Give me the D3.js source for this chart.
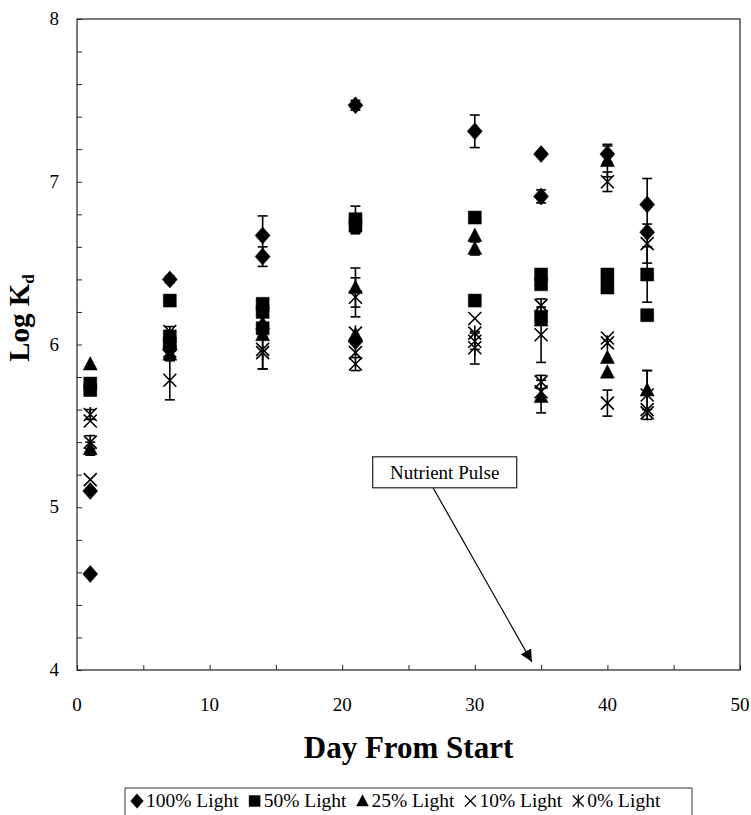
<!DOCTYPE html>
<html>
<head>
<meta charset="utf-8">
<script src="https://cdn.jsdelivr.net/npm/d3@7"></script>
<style>
  html, body { margin: 0; padding: 0; background: #fff; overflow: hidden; }
  svg { display: block; }
  text { font-family: "Liberation Serif", "Times New Roman", serif; fill: #000; }
  .tick-label { font-size: 19px; }
  .axis-title { font-size: 29px; font-weight: bold; }
</style>
</head>
<body>
<div id="chart"></div>
<script>
// Log Kd readings per light treatment: [day, value, error]
const light100 = [
  [1, 5.10, 0], [1, 4.59, 0],
  [7, 6.40, 0.02], [7, 5.97, 0],
  [14, 6.67, 0.12], [14, 6.54, 0.06],
  [21, 7.47, 0.03], [21, 6.02, 0],
  [30, 7.31, 0.10],
  [35, 7.17, 0], [35, 6.91, 0.04],
  [40, 7.17, 0.05],
  [43, 6.86, 0.16], [43, 6.69, 0]
];
const light50 = [
  [1, 5.76, 0], [1, 5.72, 0],
  [7, 6.27, 0.03], [7, 6.05, 0.03], [7, 6.00, 0],
  [14, 6.25, 0], [14, 6.20, 0], [14, 6.10, 0],
  [21, 6.77, 0.08], [21, 6.73, 0.05],
  [30, 6.78, 0], [30, 6.27, 0],
  [35, 6.43, 0], [35, 6.37, 0], [35, 6.17, 0],
  [40, 6.43, 0], [40, 6.35, 0],
  [43, 6.43, 0.17], [43, 6.18, 0]
];
const light25 = [
  [1, 5.88, 0], [1, 5.36, 0.04],
  [7, 6.02, 0], [7, 5.94, 0],
  [14, 6.13, 0], [14, 6.06, 0],
  [21, 6.35, 0.12], [21, 6.06, 0],
  [30, 6.67, 0], [30, 6.59, 0.04],
  [35, 6.15, 0], [35, 5.68, 0.1],
  [40, 7.13, 0.1], [40, 5.92, 0], [40, 5.83, 0],
  [43, 5.72, 0.12]
];
const light10 = [
  [1, 5.53, 0], [1, 5.17, 0],
  [7, 5.78, 0.12], [7, 6.08, 0.03],
  [14, 5.97, 0.12],
  [21, 6.29, 0.12], [21, 5.88, 0.04],
  [30, 6.16, 0], [30, 6.02, 0.05],
  [35, 6.24, 0.04], [35, 6.06, 0.17], [35, 5.71, 0],
  [40, 7.00, 0.06], [40, 6.04, 0], [40, 5.64, 0.08],
  [43, 6.62, 0.12], [43, 5.60, 0]
];
const light0 = [
  [1, 5.57, 0.03], [1, 5.40, 0.04],
  [7, 5.96, 0],
  [14, 5.95, 0.1],
  [21, 6.07, 0], [21, 5.95, 0],
  [30, 6.07, 0], [30, 5.98, 0.1],
  [35, 5.77, 0.04],
  [40, 6.01, 0],
  [43, 5.69, 0.15], [43, 5.58, 0]
];

const seriesNames = ["100% Light", "50% Light", "25% Light", "10% Light", "0% Light"];
const seriesShapes = ["diamond", "square", "triangle", "cross", "asterisk"];
const xTicks = [0, 10, 20, 30, 40, 50];
const yTicks = [4, 5, 6, 7, 8];
// annotation: label and arrow start / end (day, value)
const noteLabel = "Nutrient Pulse";
const noteArrow = [[26.85, 5.12], [34.3, 4.05]];

const width = 751, height = 815;
const margin = { top: 19, right: 11, bottom: 145, left: 77 };
const innerWidth = width - margin.left - margin.right;
const innerHeight = height - margin.top - margin.bottom;

const svg = d3.select("#chart")
  .append("svg")
  .attr("width", width)
  .attr("height", height);

const inner = svg.append("g")
  .attr("transform", `translate(${margin.left},${margin.top})`);

const xScale = d3.scaleLinear().domain([0, 50]).range([0, innerWidth]);
const yScale = d3.scaleLinear().domain([4, 8]).range([innerHeight, 0]);

// frame
inner.append("rect")
  .attr("width", innerWidth)
  .attr("height", innerHeight)
  .attr("fill", "none")
  .attr("stroke", "#222")
  .attr("stroke-width", 1.2);

// inward ticks, minor ones included
const bottomAxis = d3.axisBottom(xScale)
  .tickValues(d3.range(0, 51, 5))
  .tickSize(-5)
  .tickFormat("");
inner.append("g")
  .attr("transform", `translate(0,${innerHeight})`)
  .call(bottomAxis)
  .call(g => g.select(".domain").remove());

const leftAxis = d3.axisLeft(yScale)
  .tickValues(d3.range(4, 8.01, 0.2))
  .tickSize(-5)
  .tickFormat("");
inner.append("g")
  .call(leftAxis)
  .call(g => g.select(".domain").remove());

inner.selectAll(".tick line").attr("stroke", "#222");

inner.selectAll(".x-label")
  .data(xTicks)
  .join("text")
  .attr("class", "tick-label")
  .attr("x", d => xScale(d))
  .attr("y", innerHeight + 41)
  .attr("text-anchor", "middle")
  .text(d => d);

inner.selectAll(".y-label")
  .data(yTicks)
  .join("text")
  .attr("class", "tick-label")
  .attr("x", -18)
  .attr("y", d => yScale(d) + 6)
  .attr("text-anchor", "end")
  .text(d => d);

// axis titles
svg.append("text")
  .attr("class", "axis-title")
  .attr("x", margin.left + xScale(25))
  .attr("y", 758)
  .attr("text-anchor", "middle")
  .style("font-size", "31px")
  .text("Day From Start");

const yTitle = svg.append("text")
  .attr("class", "axis-title")
  .attr("transform", "translate(29,318) rotate(-90)")
  .attr("text-anchor", "middle");
yTitle.append("tspan").text("Log K");
yTitle.append("tspan")
  .attr("dy", 5)
  .style("font-size", "17px")
  .text("d");

// marker shapes
const shapePath = (shape) => {
  switch (shape) {
    case "diamond": return "M0,-8.5L7.5,0L0,8.5L-7.5,0Z";
    case "square": return "M-6.5,-6.5H6.5V6.5H-6.5Z";
    case "triangle": return "M0,-7.5L7,6L-7,6Z";
    case "cross": return "M-6.5,-6.5L6.5,6.5M6.5,-6.5L-6.5,6.5";
    case "asterisk": return "M-6.5,-6.5L6.5,6.5M6.5,-6.5L-6.5,6.5M0,-7.5V7.5";
  }
};
const filled = shape => shape === "diamond" || shape === "square" || shape === "triangle";

const allSeries = [light100, light50, light25, light10, light0];

// error bars first, markers on top
allSeries.forEach((data) => {
  const bars = inner.append("g").selectAll("g")
    .data(data.filter(d => d[2] > 0))
    .join("g")
    .attr("stroke", "#000")
    .attr("stroke-width", 1.6);
  bars.append("line")
    .attr("x1", d => xScale(d[0])).attr("x2", d => xScale(d[0]))
    .attr("y1", d => yScale(d[1] - d[2])).attr("y2", d => yScale(d[1] + d[2]));
  bars.append("line")
    .attr("x1", d => xScale(d[0]) - 5).attr("x2", d => xScale(d[0]) + 5)
    .attr("y1", d => yScale(d[1] + d[2])).attr("y2", d => yScale(d[1] + d[2]));
  bars.append("line")
    .attr("x1", d => xScale(d[0]) - 5).attr("x2", d => xScale(d[0]) + 5)
    .attr("y1", d => yScale(d[1] - d[2])).attr("y2", d => yScale(d[1] - d[2]));
});

allSeries.forEach((data, i) => {
  const shape = seriesShapes[i];
  inner.append("g").selectAll("path")
    .data(data)
    .join("path")
    .attr("transform", d => `translate(${xScale(d[0])},${yScale(d[1])})`)
    .attr("d", shapePath(shape))
    .attr("fill", filled(shape) ? "#000" : "none")
    .attr("stroke", "#000")
    .attr("stroke-width", filled(shape) ? 0.5 : 1.6);
});

// Nutrient Pulse annotation
svg.append("defs").append("marker")
  .attr("id", "arrow")
  .attr("viewBox", "0 0 10 10")
  .attr("refX", 10).attr("refY", 5)
  .attr("markerWidth", 12).attr("markerHeight", 12)
  .attr("markerUnits", "userSpaceOnUse")
  .attr("orient", "auto")
  .append("path")
  .attr("d", "M0,0L10,5L0,10Z")
  .attr("fill", "#000");

inner.append("line")
  .attr("x1", xScale(noteArrow[0][0])).attr("y1", yScale(noteArrow[0][1]))
  .attr("x2", xScale(noteArrow[1][0])).attr("y2", yScale(noteArrow[1][1]))
  .attr("stroke", "#000")
  .attr("stroke-width", 1.2)
  .attr("marker-end", "url(#arrow)");

const note = inner.append("g")
  .attr("transform", `translate(${xScale(22.3)},${yScale(5.31)})`);
note.append("rect")
  .attr("width", 144).attr("height", 31)
  .attr("fill", "#fff")
  .attr("stroke", "#222")
  .attr("stroke-width", 1.2);
note.append("text")
  .attr("x", 72).attr("y", 22)
  .attr("text-anchor", "middle")
  .style("font-size", "19px")
  .text(noteLabel);

// legend along the bottom, its lower edge runs off the page
const legend = svg.append("g")
  .attr("transform", "translate(125,788)");
legend.append("path")
  .attr("d", "M0,27V0H567V27")
  .attr("fill", "none")
  .attr("stroke", "#333")
  .attr("stroke-width", 1);

let lx = 12;
seriesNames.forEach((name, i) => {
  const shape = seriesShapes[i];
  legend.append("path")
    .attr("transform", `translate(${lx},13) scale(0.85)`)
    .attr("d", shapePath(shape))
    .attr("fill", filled(shape) ? "#000" : "none")
    .attr("stroke", "#000")
    .attr("stroke-width", filled(shape) ? 0.5 : 1.4);
  const t = legend.append("text")
    .attr("x", lx + 9)
    .attr("y", 19)
    .style("font-size", "19.5px")
    .text(name);
  lx += 9 + t.node().getComputedTextLength() + 16;
});
</script>
</body>
</html>
